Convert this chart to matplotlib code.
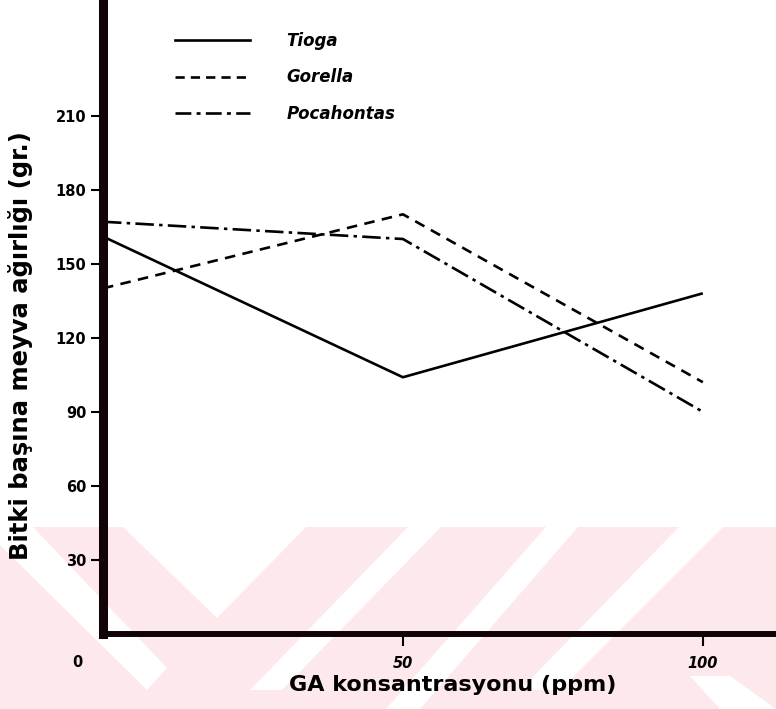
import matplotlib.pyplot as plt
from matplotlib.patches import Rectangle, Polygon
from matplotlib.lines import Line2D

# GA dozlari (ppm) ve cesitlere gore bitki basina meyva agirligi (gr.)
ga_ppm = [0, 50, 100]
tioga = [161, 104, 138]
gorella = [140, 170, 102]
pocahontas = [167, 160, 90]

series_names = ['Tioga', 'Gorella', 'Pocahontas']
y_ticks = [30, 60, 90, 120, 150, 180, 210]
x_ticks = [50, 100]

W, H = 776, 709

fig = plt.figure(figsize=(W / 100, H / 100), dpi=100)

# arka plandaki soluk pembe serit deseni (piksel koordinatlari)
bg = fig.add_axes([0, 0, 1, 1], zorder=0)
bg.set_xlim(0, W)
bg.set_ylim(H, 0)
bg.axis('off')
pink = '#fde8ec'
bg.add_patch(Rectangle((0, 527), W, H - 527, color=pink, lw=0))
white_bands = [
    [(0, 527), (33, 527), (167, 668), (147, 690), (0, 545)],
    [(123, 527), (306, 527), (217, 618)],
    [(408, 527), (441, 527), (282, 690), (250, 690)],
    [(546, 527), (578, 527), (420, 709), (386, 709)],
    [(679, 527), (723, 527), (560, 690), (520, 690)],
    [(690, 676), (730, 676), (776, 709), (720, 709)],
]
for pts in white_bands:
    bg.add_patch(Polygon(pts, closed=True, color='white', lw=0))

ax = fig.add_axes([103 / W, 75 / H, 673 / W, 632 / H], zorder=1)
ax.patch.set_alpha(0)

lw = 1.9
ax.plot(ga_ppm, tioga, color='black', lw=lw, ls='-', solid_capstyle='butt')
ax.plot(ga_ppm, gorella, color='black', lw=lw, ls=(0, (4, 2.8)), dash_capstyle='butt')
ax.plot(ga_ppm, pocahontas, color='black', lw=lw, ls=(0, (7, 2, 1.3, 2)), dash_capstyle='butt')

ax.set_xlim(0, 112.2)
ax.set_ylim(0, 256)

for s in ['top', 'right']:
    ax.spines[s].set_visible(False)
ax.spines['left'].set_linewidth(6.5)
ax.spines['bottom'].set_linewidth(4.3)
for s in ['left', 'bottom']:
    ax.spines[s].set_color('#120306')
    ax.spines[s].set_capstyle('projecting')

ax.set_yticks(y_ticks)
ax.set_yticklabels([str(v) for v in y_ticks])
ax.set_xticks(x_ticks)
ax.set_xticklabels([str(v) for v in x_ticks])
ax.tick_params(axis='both', length=8.5, width=1.5, color='black')
ax.tick_params(axis='y', pad=3.6)
ax.tick_params(axis='x', pad=7)
for lab in ax.get_yticklabels() + ax.get_xticklabels():
    lab.set_fontsize(10.5)
    lab.set_fontweight('bold')
for lab in ax.get_xticklabels():
    lab.set_fontstyle('italic')

# orijin etiketi eksenin solunda
ax.text(-4.3, -8.6, '0', transform=ax.transData, ha='center', va='top',
        fontsize=10.5, fontweight='bold', clip_on=False)

ax.set_xlabel('GA konsantrasyonu (ppm)', fontsize=16, fontweight='bold')
ax.xaxis.set_label_coords(0.52, -0.065)
ax.set_ylabel('Bitki başına meyva ağırlığı (gr.)', fontsize=17.5, fontweight='bold')
ax.yaxis.set_label_coords(-0.104, 0.457)

handles = [
    Line2D([], [], color='black', lw=lw, ls='-'),
    Line2D([], [], color='black', lw=lw, ls=(0, (3.5, 2.3))),
    Line2D([], [], color='black', lw=lw, ls=(0, (6, 2, 1.5, 2))),
]
leg = ax.legend(handles, series_names, loc='upper left',
                bbox_to_anchor=(175 / W, 1 - 32 / H), bbox_transform=fig.transFigure,
                frameon=False, borderpad=0, borderaxespad=0,
                handlelength=4.5, handletextpad=2.2, labelspacing=1.1,
                prop={'size': 12, 'weight': 'bold', 'style': 'italic'})

fig.savefig('out.png', dpi=100)
